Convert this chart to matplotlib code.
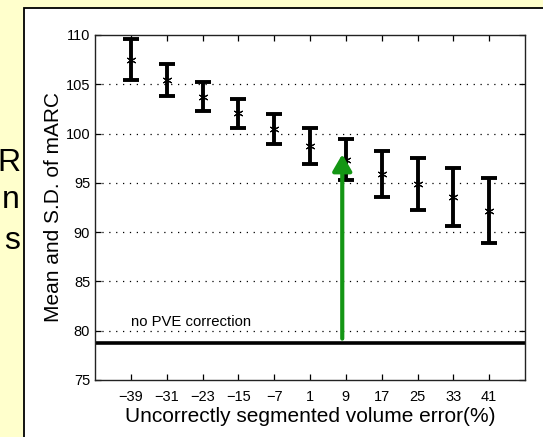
import numpy as np
import matplotlib as mpl
mpl.use('Agg')
import matplotlib.pyplot as plt
from matplotlib.patches import Rectangle, FancyArrowPatch

plt.rcParams['font.family'] = ['Liberation Sans', 'DejaVu Sans']

# error values (%) and measured mARC mean / S.D.
errors = [-39, -31, -23, -15, -7, 1, 9, 17, 25, 33, 41]
means = [107.5, 105.45, 103.75, 102.05, 100.45, 98.75, 97.35, 95.9, 94.85, 93.55, 92.15]
sds = [2.05, 1.65, 1.45, 1.45, 1.55, 1.85, 2.1, 2.37, 2.65, 2.95, 3.3]

no_pve_level = 78.75
arrow_x = 8.2
arrow_from = 79.2
arrow_to = 97.9

yticks = [75, 80, 85, 90, 95, 100, 105, 110]
slide_letters = ['R', 'n', 's']

green = '#149614'

fig = plt.figure(figsize=(5.43, 4.37), dpi=100)
fig.patch.set_facecolor('#ffffcc')

# white panel from the slide
panel = Rectangle((24 / 543, -0.01), 1.0, 1 - 8 / 437 + 0.01, transform=fig.transFigure,
                  facecolor='white', edgecolor='black', linewidth=1.3, zorder=0)
fig.patches.append(panel)

# cut off slide text on the left
for letter, ypix in zip(slide_letters, [163, 200, 241]):
    fig.text(20 / 543, 1 - ypix / 437, letter, ha='right', va='center', fontsize=23)

ax = fig.add_axes([95 / 543, 1 - 380 / 437, 430 / 543, 345 / 437])
ax.set_zorder(2)
ax.set_facecolor('white')

ax.errorbar(errors, means, yerr=sds, fmt='none', ecolor='black', elinewidth=2.8,
            capsize=5.5, capthick=2.8, zorder=3)
ax.plot(errors, means, linestyle='none', marker=(6, 2, 0), markersize=7,
        markeredgewidth=0.8, color='black', zorder=4)

ax.axhline(no_pve_level, color='black', linewidth=2.6, zorder=2)
ax.text(-39, 80.2, 'no PVE correction', fontsize=10.7, ha='left', va='bottom')

arrow = FancyArrowPatch((arrow_x, arrow_from), (arrow_x, arrow_to),
                        arrowstyle='-|>,head_width=5.8,head_length=10',
                        mutation_scale=1, linewidth=3, color=green,
                        shrinkA=0, shrinkB=0, zorder=5)
ax.add_patch(arrow)

ax.set_xlim(-47, 49)
ax.set_ylim(75, 110)
ax.set_xticks(errors)
ax.set_xticklabels([str(e).replace('-', '\u2212') for e in errors])
ax.set_yticks(yticks)

for y in yticks[1:-1]:
    ax.axhline(y, color='black', linewidth=0.9, linestyle=(0, (1, 4.5)), zorder=1)

ax.tick_params(direction='in', top=True, right=True, length=4, width=0.9,
               labelsize=10.5)
ax.tick_params(axis='x', pad=7)
ax.tick_params(axis='y', pad=3.5)
for s in ax.spines.values():
    s.set_linewidth(1.0)
    s.set_color('#222222')

ax.set_xlabel('Uncorrectly segmented volume error(%)', fontsize=15, labelpad=2)
ax.set_ylabel('Mean and S.D. of mARC', fontsize=15, labelpad=1.5)

fig.savefig('out.png', dpi=100, facecolor=fig.get_facecolor())
